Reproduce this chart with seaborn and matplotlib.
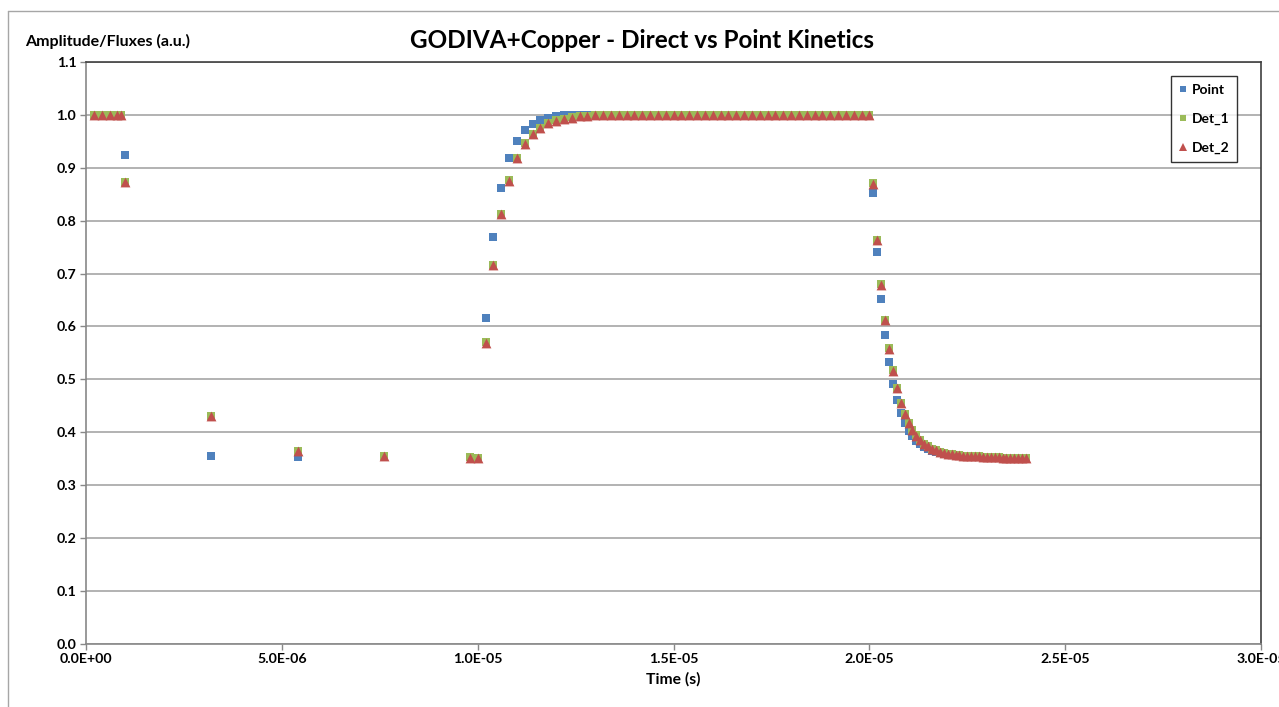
import numpy as np
import pandas as pd
import matplotlib.pyplot as plt
import seaborn as sns
from matplotlib.ticker import FuncFormatter, MultipleLocator
from matplotlib.lines import Line2D

# time in microseconds (converted to seconds below)
time_early = [0.2, 0.4, 0.6, 0.8, 0.9, 1.0, 3.2, 5.4, 7.6, 9.8, 10.0]
time_rise = [10.2, 10.4, 10.6, 10.8, 11.0, 11.2, 11.4, 11.6, 11.8, 12.0,
             12.2, 12.4, 12.6, 12.8, 13.0, 13.2, 13.4, 13.6, 13.8, 14.0,
             14.2, 14.4, 14.6, 14.8, 15.0, 15.2, 15.4, 15.6, 15.8, 16.0,
             16.2, 16.4, 16.6, 16.8, 17.0, 17.2, 17.4, 17.6, 17.8, 18.0,
             18.2, 18.4, 18.6, 18.8, 19.0, 19.2, 19.4, 19.6, 19.8, 20.0]
time_fall = [20.1, 20.2, 20.3, 20.4, 20.5, 20.6, 20.7, 20.8, 20.9, 21.0,
             21.1, 21.2, 21.3, 21.4, 21.5, 21.6, 21.7, 21.8, 21.9, 22.0,
             22.1, 22.2, 22.3, 22.4, 22.5, 22.6, 22.7, 22.8, 22.9, 23.0,
             23.1, 23.2, 23.3, 23.4, 23.5, 23.6, 23.7, 23.8, 23.9, 24.0]

point_early = [1.0, 1.0, 1.0, 1.0, 1.0, 0.924, 0.355, 0.353, 0.354, 0.353, 0.352]
det1_early = [1.0, 1.0, 1.0, 1.0, 1.0, 0.873, 0.430, 0.365, 0.354, 0.353, 0.352]
det2_early = [1.0, 1.0, 1.0, 1.0, 1.0, 0.873, 0.430, 0.364, 0.354, 0.352, 0.352]

point_rise = [0.615, 0.770, 0.862, 0.918, 0.951, 0.972, 0.983, 0.990, 0.995, 0.997,
              0.999, 1.0] + [1.0] * 38
det1_rise = [0.570, 0.717, 0.813, 0.876, 0.918, 0.946, 0.964, 0.976, 0.984, 0.990,
             0.993, 0.996, 0.997, 0.998, 0.999] + [1.0] * 35
det2_rise = [0.569, 0.716, 0.812, 0.875, 0.918, 0.945, 0.963, 0.975, 0.984, 0.989,
             0.993, 0.995, 0.997, 0.998, 0.999] + [1.0] * 35

point_fall = [0.852, 0.740, 0.651, 0.583, 0.532, 0.491, 0.460, 0.436, 0.417, 0.403,
              0.392, 0.383, 0.377, 0.372, 0.368, 0.365, 0.362, 0.360, 0.359, 0.358,
              0.357, 0.356, 0.355, 0.355, 0.354, 0.354, 0.354, 0.353, 0.353, 0.353,
              0.353, 0.353, 0.353, 0.352, 0.352, 0.352, 0.352, 0.352, 0.352, 0.352]
det1_fall = [0.871, 0.764, 0.680, 0.613, 0.559, 0.517, 0.484, 0.456, 0.435, 0.418,
             0.405, 0.394, 0.385, 0.378, 0.373, 0.369, 0.366, 0.363, 0.361, 0.359,
             0.358, 0.357, 0.356, 0.355, 0.355, 0.354, 0.354, 0.354, 0.353, 0.353,
             0.353, 0.353, 0.353, 0.352, 0.352, 0.352, 0.352, 0.352, 0.352, 0.352]
det2_fall = [0.870, 0.763, 0.679, 0.612, 0.558, 0.516, 0.483, 0.456, 0.434, 0.418,
             0.404, 0.393, 0.385, 0.378, 0.373, 0.369, 0.366, 0.363, 0.361, 0.359,
             0.358, 0.357, 0.356, 0.355, 0.355, 0.354, 0.354, 0.354, 0.353, 0.353,
             0.353, 0.353, 0.353, 0.352, 0.352, 0.352, 0.352, 0.352, 0.352, 0.352]

series = ["Point", "Det_1", "Det_2"]
colors = {"Point": "#4F81BD", "Det_1": "#9BBB59", "Det_2": "#C0504D"}
markers = {"Point": "s", "Det_1": "s", "Det_2": "^"}

times = np.array(time_early + time_rise + time_fall) * 1e-6
values = {
    "Point": point_early + point_rise + point_fall,
    "Det_1": det1_early + det1_rise + det1_fall,
    "Det_2": det2_early + det2_rise + det2_fall,
}
df = pd.concat([pd.DataFrame({"Time": times, "Value": values[s], "Series": s}) for s in series],
               ignore_index=True)

sns.set_style("white")
plt.rcParams["font.family"] = ["Lato", "DejaVu Sans"]
plt.rcParams["font.weight"] = "bold"
plt.rcParams["text.color"] = "black"
plt.rcParams["axes.labelcolor"] = "black"
plt.rcParams["xtick.labelcolor"] = "black"
plt.rcParams["ytick.labelcolor"] = "black"

fig = plt.figure(figsize=(12.79, 7.07), dpi=100)
ax = fig.add_axes([86 / 1279, 1 - 643.7 / 707, 1175 / 1279, 581.7 / 707])

for s in series:
    sns.scatterplot(data=df[df["Series"] == s], x="Time", y="Value", color=colors[s],
                    marker=markers[s], s=40 if s != "Det_2" else 50, linewidth=0,
                    ax=ax, zorder=3)

ax.set_xlim(0, 3e-5)
ax.set_ylim(0, 1.1)
ax.xaxis.set_major_locator(MultipleLocator(5e-6))
ax.yaxis.set_major_locator(MultipleLocator(0.1))
ax.xaxis.set_major_formatter(FuncFormatter(lambda v, p: f"{v:.1E}"))
ax.yaxis.set_major_formatter(FuncFormatter(lambda v, p: f"{v:.1f}"))
ax.grid(axis="y", color="#a6a6a6", linewidth=1.2)
ax.set_axisbelow(True)
ax.tick_params(axis="both", labelsize=10.2, length=4, width=1, color="#888888",
               labelcolor="black", direction="out", pad=3, bottom=True, left=True)
for lab in ax.get_xticklabels() + ax.get_yticklabels():
    lab.set_fontweight("bold")
ax.set_xlabel("Time (s)", fontsize=11.3, fontweight="bold", labelpad=5, color="black")
ax.set_ylabel("")

for side in ["left", "bottom"]:
    ax.spines[side].set_color("#888888")
    ax.spines[side].set_linewidth(1.2)
for side in ["top", "right"]:
    ax.spines[side].set_color("#404040")
    ax.spines[side].set_linewidth(1.2)

fig.text(25 / 1279, 1 - 41 / 707, "Amplitude/Fluxes (a.u.)", fontsize=11.5,
         fontweight="bold", va="center", ha="left", color="black")
fig.text(642 / 1279, 1 - 40 / 707, "GODIVA+Copper - Direct vs Point Kinetics",
         fontsize=17.5, fontweight="bold", va="center", ha="center", color="black")

handles = [Line2D([], [], linestyle="none", marker=markers[s], color=colors[s],
                  markersize=5 if s != "Det_2" else 5.5, markeredgewidth=0) for s in series]
leg = ax.legend(handles, series, loc="upper right", bbox_to_anchor=(0.98, 0.976),
                borderaxespad=0, fontsize=10, frameon=True, fancybox=False,
                handlelength=0.6, handletextpad=0.3, labelspacing=1.2,
                borderpad=0.6, edgecolor="#000000")
leg.get_frame().set_linewidth(1.0)
for t in leg.get_texts():
    t.set_fontweight("bold")
    t.set_color("black")

# outer chart frame
fig.add_artist(Line2D([8 / 1279, 8 / 1279], [0, 1 - 11 / 707], transform=fig.transFigure,
                      color="#a6a6a6", linewidth=1))
fig.add_artist(Line2D([8 / 1279, 1], [1 - 11 / 707, 1 - 11 / 707], transform=fig.transFigure,
                      color="#a6a6a6", linewidth=1))

fig.savefig("out.png", dpi=100)
